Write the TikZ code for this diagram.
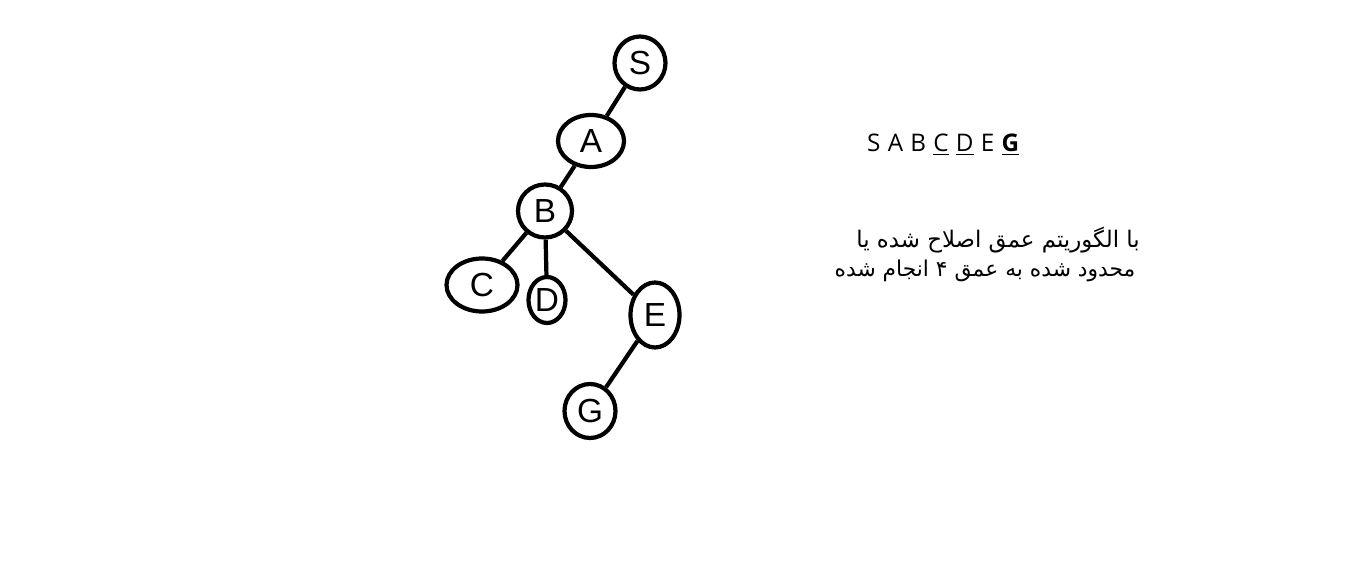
\documentclass[tikz,border=0pt]{standalone}
\usepackage{fontspec}
\usepackage{tikz}
\usetikzlibrary{shapes.geometric}
\TeXXeTstate=1
\newfontfamily\letterfont{Liberation Sans}
\newfontfamily\seqfont[WordSpace=1.15]{Open Sans}
\newfontfamily\arabicfont[Script=Arabic]{DejaVu Sans}

\begin{document}
\begin{tikzpicture}[
  vtx/.style={draw,ellipse,line width=2.4pt,inner sep=0pt,
    font=\letterfont\fontsize{19}{21}\selectfont},
  lnk/.style={line width=2.4pt}
]
  \useasboundingbox (0,0) rectangle (27.08,11.34);

  % Arbol de busqueda.
  \node[vtx,minimum width=1.02cm,minimum height=1.06cm] (s) at (12.80,10.08) {S};
  \node[vtx,minimum width=1.32cm,minimum height=1.04cm] (a) at (11.82,8.52) {A};
  \node[vtx,minimum width=1.08cm,minimum height=1.06cm] (b) at (10.90,7.12) {B};
  \node[vtx,minimum width=1.42cm,minimum height=1.06cm] (c) at (9.64,5.64) {C};
  \node[vtx,minimum width=0.74cm,minimum height=0.92cm] (d) at (10.94,5.34) {D};
  \node[vtx,minimum width=0.98cm,minimum height=1.30cm] (e) at (13.10,5.04) {E};
  \node[vtx,minimum width=1.02cm,minimum height=1.08cm] (g) at (11.80,3.12) {G};
  \draw[lnk] (s)--(a);
  \draw[lnk] (a)--(b);
  \draw[lnk] (b)--(c);
  \draw[lnk] (b)--(d);
  \draw[lnk] (b)--(e);
  \draw[lnk] (e)--(g);

  % Orden de visita y nota.
  \node[anchor=west,font=\seqfont\fontsize{13.8}{16}\selectfont] (seq) at (17.22,8.44)
    {S A B \underline{C} \underline{D} E \underline{\textbf{G}}};
  \node[font=\arabicfont\fontsize{13}{15}\selectfont] (line1) at (19.96,6.54)
    {\beginR با الگوریتم عمق اصلاح شده یا\endR};
  \node[font=\arabicfont\fontsize{12.4}{15}\selectfont] (line2) at (19.70,5.92)
    {\beginR محدود شده به عمق ۴ انجام شده\endR};
\end{tikzpicture}
\end{document}
